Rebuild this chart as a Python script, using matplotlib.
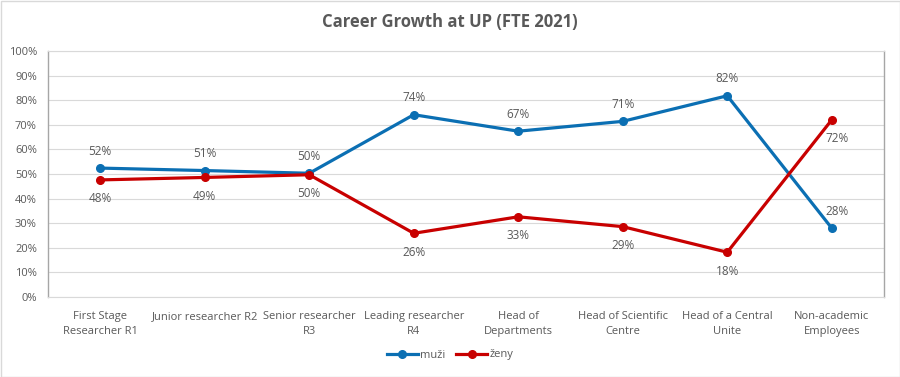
import matplotlib
matplotlib.use("Agg")
import matplotlib.pyplot as plt
from matplotlib.ticker import FuncFormatter

categories = ["First Stage\nResearcher R1", "Junior researcher R2", "Senior researcher\nR3",
              "Leading researcher\nR4", "Head of\nDepartments", "Head of Scientific\nCentre",
              "Head of a Central\nUnite", "Non-academic\nEmployees"]
muzi = [52.4, 51.4, 50.3, 74.1, 67.4, 71.4, 81.8, 28.0]
zeny = [47.6, 48.6, 49.7, 25.9, 32.6, 28.6, 18.2, 72.0]

blue = "#0b6fb3"
red = "#c80000"
txt = "#595959"

plt.rcParams['font.family'] = ['Open Sans', 'DejaVu Sans']

fig = plt.figure(figsize=(9, 3.77), dpi=100)
ax = fig.add_axes([48/900, 1-297/377, (884-48)/900, (297-51)/377])

x = list(range(len(categories)))
ax.plot(x, muzi, color=blue, lw=2.3, marker='o', ms=5.5, label="muži", zorder=3)
ax.plot(x, zeny, color=red, lw=2.3, marker='o', ms=5.5, label="ženy", zorder=3)

last = len(categories) - 1
for i in x:
    dx = 4 if i == last else 0
    ax.annotate(f"{round(muzi[i])}%", (i, muzi[i]), xytext=(dx, 7.5), textcoords='offset points',
                ha='center', va='bottom', fontsize=8.5, color=txt)
    ax.annotate(f"{round(zeny[i])}%", (i, zeny[i]), xytext=(dx, -9), textcoords='offset points',
                ha='center', va='top', fontsize=8.5, color=txt)

ax.set_xlim(-0.5, len(categories)-0.5)
ax.set_ylim(0, 100)
ax.set_yticks(range(0, 101, 10))
ax.yaxis.set_major_formatter(FuncFormatter(lambda v, p: f"{int(v)}%"))
ax.set_xticks(x)
ax.set_xticklabels(categories, fontsize=8, color=txt, linespacing=1.5)
ax.tick_params(axis='y', labelsize=8, labelcolor=txt, length=0, pad=8)
ax.tick_params(axis='x', length=0, pad=10)
ax.grid(axis='y', color='#d9d9d9', lw=0.8)
ax.set_axisbelow(True)
for s in ['left', 'right']:
    ax.spines[s].set_color('#a6a6a6')
    ax.spines[s].set_linewidth(1)
ax.spines['top'].set_color('#d9d9d9')
ax.spines['bottom'].set_color('#d9d9d9')

fig.suptitle("Career Growth at UP (FTE 2021)", y=1-22/377, va='center', fontsize=12,
             fontweight='bold', color=txt)

fig.legend(loc='center', bbox_to_anchor=(450/900, 1-355/377), ncol=2, frameon=False,
           fontsize=8, handlelength=2.8, columnspacing=1.0, handletextpad=0.2,
           labelcolor=txt)

fig.patches.append(plt.Rectangle((0.5/900, 0.5/377), 1-1/900, 1-1/377, transform=fig.transFigure,
                                 fill=False, edgecolor='#d9d9d9', lw=1))

fig.savefig("out.png", dpi=100)
